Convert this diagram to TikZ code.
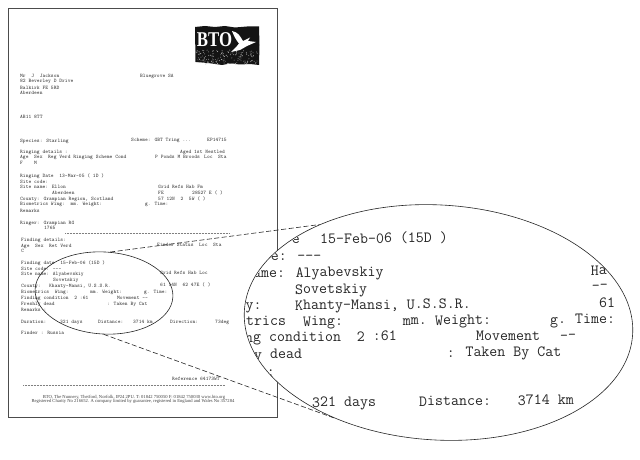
\documentclass[tikz,border=0pt]{standalone}
\usepackage{fontspec}
\setmainfont{Liberation Serif}
\usetikzlibrary{shapes.geometric}
\tikzset{
  doc/.style={anchor=base west,inner sep=0pt,font=\ttfamily\bfseries\fontsize{5.33}{6}\selectfont,text=black!72},
  foot/.style={anchor=base,inner sep=0pt,font=\fontsize{4.6}{5}\selectfont,text=black!75},
  big/.style={anchor=base west,inner sep=0pt,font=\ttfamily\fontsize{15.5}{16}\selectfont,text=black!85,rotate=0.5},
  lens/.style={ellipse,draw=black!85,inner sep=0pt,rotate=-3.5,line width=0.6pt},
  leader/.style={draw=black!85,dash pattern=on 5pt off 2.5pt,line width=0.6pt},
  rule/.style={draw=black!50,line width=0.5pt,dash pattern=on 1pt off 0.5pt}
}
\begin{document}
\begin{tikzpicture}[x=1pt,y=-1pt]
\useasboundingbox (0,0) rectangle (640,460);
\fill[white] (0,0) rectangle (640,460);
% page
\node[draw=black!70,fill=white,line width=0.9pt,minimum width=269.5pt,minimum height=409pt,inner sep=0pt,anchor=north west] (page) at (7.5,8) {};
% logo
\fill[black!92] (195,27) -- (205,26) -- (215,27) -- (225,26) -- (235,27.5) -- (247,26.5) -- (259,26.5) -- (259.5,45) -- (259,65) -- (250,64) -- (240,64.5) -- (230,63.5) -- (222,65) -- (208,63) -- (195.5,62) -- cycle;
\pgfmathsetseed{7}
\foreach \i in {1,...,170}{
  \pgfmathsetmacro{\px}{196+62*rnd}
  \pgfmathsetmacro{\py}{50+14*rnd}
  \fill[white!70!black] (\px,\py) circle (0.45pt);
}
\node[inner sep=0pt,text=white,font=\bfseries\fontsize{21}{22}\selectfont] (bto) at (214.5,40) {\scalebox{0.8}[1]{BTO}};
\fill[white] (232,31) .. controls (238,32) and (240,36) .. (243,41) -- (250,37.5) -- (248,41) -- (256,42) -- (247,46) -- (240,50) -- (231,52) -- (237,46) -- (239,43.5) .. controls (236,40) and (234,36) .. (232,31) -- cycle;
% address block
\node[doc] (a1) at (20,77.5) {Mr~~J~~Jackson};
\node[doc] (a2) at (140,77.5) {Bluegrove SA};
\node[doc] (a3) at (20,83) {82 Beverley D Drive};
\node[doc] (a4) at (20,89.5) {Balkirk FE 5RD};
\node[doc] (a5) at (20,95) {Aberdeen};
\node[doc] (a6) at (20,118) {AB11 8TT};
\node[doc] (b1) at (20,142) {Species: Starling};
\node[doc] (b2) at (131,141.5) {Scheme: GBT Tring ...};
\node[doc] (b3) at (207,141.5) {EP14715};
\node[doc] (c1) at (20,153) {Ringing details :};
\node[doc] (c2) at (180,153) {Aged 1st Nestled};
\node[doc] (c3) at (20,158.5) {Age~~Sex~~Reg Verd Ringing Scheme Cond};
\node[doc] (c4) at (155,158.5) {P Ponds M Broods};
\node[doc] (c5) at (204,158.5) {Loc~~Sta};
\node[doc] (c6) at (20,164.5) {F~~~~M};
\node[doc] (d1) at (20,177) {Ringing Date~~13-Mar-05 ( 1D )};
\node[doc] (d2) at (20,183) {Site code:};
\node[doc] (d3) at (20,188.5) {Site name: Ellon};
\node[doc] (d4) at (158,188.5) {Grid Refs Hab Fm};
\node[doc] (d5) at (52,194.5) {Aberdeen};
\node[doc] (d6) at (158,194.5) {FE};
\node[doc] (d7) at (192,194.5) {28527 E ( )};
\node[doc] (d8) at (20,200) {County: Grampian Region, Scotland};
\node[doc] (d9) at (158,200) {57 12N~~2~~5W ( )};
\node[doc] (d10) at (20,205.5) {Biometrics Wing:~~mm. Weight:};
\node[doc] (d11) at (145,205.5) {g. Time:};
\node[doc] (d12) at (20,212) {Remarks};
\node[doc] (e1) at (20,224) {Ringer: Grampian RG};
\node[doc] (e2) at (44,229.5) {1765};
% finding block
\node[doc] (f1) at (21,241.5) {Finding details:};
\node[doc] (f2) at (21,247) {Age~~Sex~~Ret Verd};
\node[doc] (f3) at (157,246.5) {Finder Status~~Loc~~Sta};
\node[doc] (f4) at (21,252.5) {C};
\node[doc] (g1) at (21,264) {Finding date~~15-Feb-06 (15D )};
\node[doc] (g2) at (21,270.5) {Site code: ---};
\node[doc] (g3) at (21,275.5) {Site name: Alyabevskiy};
\node[doc] (g4) at (160,274.5) {Grid Refs Hab Loc};
\node[doc] (g5) at (53,281) {Sovetskiy};
\node[doc] (g6) at (21,287.5) {County:~~~Khanty-Mansi, U.S.S.R.};
\node[doc] (g7) at (160,286.5) {61 14N~~62 47E ( )};
\node[doc] (g8) at (21,293) {Biometrics~~Wing:};
\node[doc] (g9) at (90,293) {mm. Weight:};
\node[doc] (g10) at (144,293) {g. Time:};
\node[doc] (g11) at (21,299) {Finding condition~~2 :61};
\node[doc] (g12) at (117,299) {Movement --};
\node[doc] (g13) at (21,305) {Freshly dead};
\node[doc] (g14) at (107,305) {: Taken By Cat};
\node[doc] (g15) at (21,311) {Remarks :};
\node[doc] (h1) at (21,323) {Duration:};
\node[doc] (h2) at (60,323) {321 days};
\node[doc] (h3) at (98,323) {Distance:};
\node[doc] (h4) at (133,323) {3714 km};
\node[doc] (h5) at (170,323) {Direction:};
\node[doc] (h6) at (215,323) {73deg};
\node[doc] (h7) at (21,334.5) {Finder : Russia};
\node[doc] (r1) at (172,380) {Reference 64173WT};
\node[foot] (k1) at (134,398) {BTO, The Nunnery, Thetford, Norfolk, IP24 2PU. T: 01842 750050 F: 01842 750030 www.bto.org};
\node[foot] (k2) at (133,402.5) {Registered Charity No 216652. A company limited by guarantee, registered in England and Wales No 357284};
\draw[rule] (65,233) -- (230,233);
\draw[rule] (23,385) -- (225,385);
% leaders and lenses
\node[lens,minimum width=138pt,minimum height=82pt] (small) at (104,293) {};
\node[lens,fill=white,minimum width=389pt,minimum height=235pt] (large) at (438.5,322.5) {};
\draw[leader] (small.85) -- (large.144.5);
\draw[leader] (small.-87.5) -- (large.-134.5);
\begin{scope}
\clip[rotate around={-3.5:(438.5,322.5)}] (438.5,322.5) ellipse [x radius=194pt,y radius=117pt];
\node[big] (m1) at (291.7,243.5) {e};
\node[big] (m2) at (320,243.5) {15-Feb-06 (15D )};
\node[big] (m3) at (270.7,261) {e: ---};
\node[big] (m4) at (253,277.5) {ame: Alyabevskiy};
\node[big] (m5) at (590.7,275) {Ha};
\node[big] (m6) at (295,294) {Sovetskiy};
\node[big] (m7) at (591.7,290) {--};
\node[big] (m8) at (237.5,310) {ty:};
\node[big] (m9) at (295,310) {Khanty-Mansi, U.S.S.R.};
\node[big] (m10) at (599,307.5) {61};
\node[big] (m11) at (238,326) {etrics};
\node[big] (m12) at (303,326) {Wing:};
\node[big] (m13) at (402.7,325) {mm.};
\node[big] (m14) at (435,325) {Weight:};
\node[big] (m15) at (550,324) {g.};
\node[big] (m16) at (575,323.5) {Time:};
\node[big] (m17) at (245,342) {ng condition~~2 :61};
\node[big] (m18) at (476,340.5) {Movement};
\node[big] (m19) at (560,340) {--};
\node[big] (m20) at (254,359) {y dead};
\node[big] (m21) at (446.7,357) {: Taken By Cat};
\node[big] (m22) at (266.7,376) {:};
\node[big] (m23) at (312,407) {321 days};
\node[big] (m24) at (419,406) {Distance:};
\node[big] (m25) at (517.7,405) {3714 km};
\end{scope}
\end{tikzpicture}
\end{document}
